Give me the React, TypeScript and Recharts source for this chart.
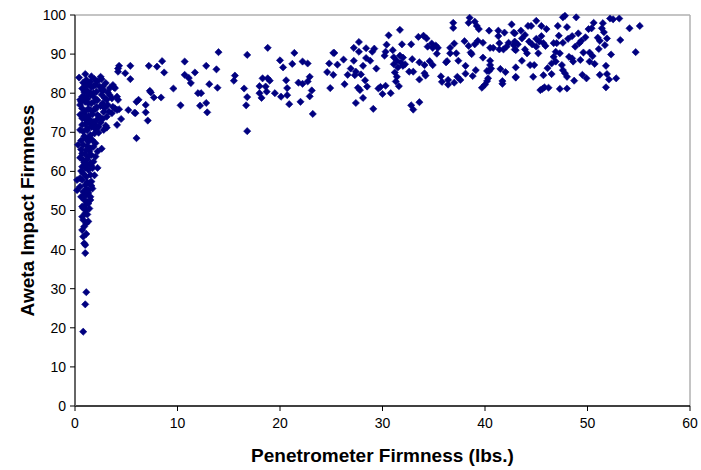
import React from 'react';
import { ScatterChart, Scatter, XAxis, YAxis, ReferenceLine } from 'recharts';

// Penetrometer firmness (lbs.) vs Aweta impact firmness
const softLow: number[][] = [
  [1.0,39.1],[0.9,41.6],[1.0,41.2],[0.8,43.3],[1.1,44.0],[0.7,45.0],[0.9,45.9],[1.1,46.7],[1.3,47.2],[0.8,47.6],
  [0.7,48.4],[1.0,49.3],[1.2,49.0],[1.1,50.1],[0.8,50.6],[1.4,50.5],[0.7,51.0],[1.0,51.4],[1.3,51.8],[0.9,52.7],
  [1.5,52.7],[1.2,52.2],[0.6,53.5],[1.1,54.0],[1.5,53.5],[0.9,53.9],[1.3,54.5],[0.8,54.8],[1.3,55.2],[0.2,55.2],
  [1.7,55.6],[1.1,55.5],[1.0,26.0],[1.1,29.1],[0.8,19.0],
];
const softMid: number[][] = [
  [0.5,56.1],[1.0,56.5],[1.4,57.0],[1.6,57.4],[0.2,57.8],[0.7,57.8],[1.2,57.2],[1.1,58.6],[0.5,58.3],[1.5,59.1],
  [0.8,59.5],[1.9,59.0],[1.3,60.4],[1.7,60.8],[0.6,60.1],[1.0,60.9],[0.7,61.2],[1.1,61.6],[1.6,61.4],[1.5,62.1],
  [1.8,62.5],[0.9,62.3],[0.8,62.9],[1.2,63.1],[1.3,63.8],[1.6,64.2],[2.0,63.8],[0.5,63.5],[0.7,64.6],[1.0,64.4],
  [1.1,65.5],[1.4,65.2],[2.2,65.1],[0.6,65.6],[2.2,60.9],[1.6,56.3],
];
const softHigh: number[][] = [
  [1.5,65.9],[1.8,66.3],[0.8,66.8],[0.3,66.8],[1.2,66.5],[1.3,67.6],[1.7,68.0],[2.0,67.2],[0.6,67.9],[1.0,68.5],
  [1.4,68.8],[0.9,69.0],[1.5,69.3],[1.9,69.7],[2.3,69.9],[0.8,70.2],[1.2,70.5],[0.5,70.6],[1.2,71.0],[1.6,71.4],
  [2.0,71.9],[0.7,71.9],[1.0,72.1],[1.4,72.3],[2.3,71.4],[1.1,73.1],[1.8,72.7],[0.7,73.6],[1.5,73.1],[2.1,73.1],
  [0.9,73.9],[2.2,74.4],[2.4,74.0],[1.3,74.2],[0.8,74.9],[1.1,74.0],[1.7,74.6],[0.5,74.5],[2.6,65.8],[2.0,70.8],
  [2.8,70.6],[2.5,72.5],[3.0,71.7],[3.1,71.2],[2.7,73.4],
];
const softTop: number[][] = [
  [1.5,75.7],[1.8,75.7],[1.0,75.4],[0.7,76.1],[1.3,76.0],[2.1,76.5],[2.5,76.7],[2.0,75.9],[1.0,77.8],[1.3,77.4],
  [1.6,77.4],[2.7,77.4],[0.5,77.0],[1.9,77.9],[0.5,78.3],[0.9,78.6],[1.2,78.5],[2.2,78.2],[2.9,78.8],[0.7,79.1],
  [1.1,79.1],[1.9,78.9],[1.5,79.5],[2.6,79.6],[1.5,80.0],[1.8,80.0],[0.9,80.3],[1.2,80.6],[2.1,80.4],[2.6,80.8],
  [2.8,80.8],[0.7,81.2],[1.6,81.5],[2.4,81.7],[1.0,81.8],[1.8,81.8],[2.0,82.1],[1.3,82.3],[0.8,82.7],[1.5,82.9],
  [2.2,83.0],[1.1,83.4],[1.9,83.6],[0.4,84.0],[1.0,84.9],[1.6,84.3],[2.5,84.2],[2.6,83.6],[0.6,77.8],[3.1,78.3],
  [2.8,75.2],[3.2,77.0],[2.9,76.2],[3.0,82.6],[3.2,80.2],[2.7,81.7],
];
const transition: number[][] = [
  [3.3,75.3],[3.6,74.9],[3.1,74.0],[3.7,76.5],[3.9,76.1],[4.1,75.7],[4.3,75.9],[3.6,78.7],[3.4,79.5],[3.8,81.5],
  [3.4,81.3],[3.7,82.1],[3.9,81.3],[4.1,79.1],[4.2,78.3],[4.5,73.4],[4.1,71.9],[4.3,87.0],[4.2,85.5],[4.9,85.1],
  [5.4,87.0],[5.4,83.6],[5.2,75.7],[5.9,74.9],[6.0,77.8],[6.2,78.3],[6.0,68.5],[6.9,77.0],[6.9,75.1],[7.1,73.0],
  [7.2,87.0],[7.3,80.6],[7.4,80.2],[7.7,78.9],[8.0,86.8],[8.4,78.9],[8.5,88.2],[8.7,85.3],[9.6,81.2],[5.8,75.0],
  [4.2,86.3],
];
const midRange: number[][] = [
  [10.3,76.9],[10.7,88.1],[10.7,84.7],[11.1,83.9],[11.3,82.6],[11.7,85.3],[12.0,80.0],[12.3,80.0],[12.2,76.8],[12.8,87.0],
  [12.8,77.5],[12.9,75.1],[13.1,82.3],[13.8,86.1],[13.9,81.4],[14.0,90.5],[15.5,83.2],[15.6,84.5],[16.5,81.2],[16.8,89.8],
  [16.8,79.0],[16.7,76.9],[16.8,70.3],[18.0,81.8],[18.0,80.0],[18.2,78.8],[18.3,83.8],[18.6,81.7],[18.7,80.4],[18.8,91.6],
  [18.8,83.8],[19.0,83.2],[19.5,80.0],[20.0,88.4],[20.1,79.1],[20.3,86.6],[20.6,83.3],[20.7,81.3],[20.7,79.5],[20.9,77.2],
  [21.2,87.5],[21.4,90.3],[21.8,82.7],[22.0,77.8],[22.2,82.4],[22.2,88.1],[22.7,83.0],[22.7,87.6],[22.9,84.2],[22.9,79.2],
  [23.1,80.7],[23.2,74.7],[24.6,85.4],[24.8,87.6],[24.9,81.3],[25.2,90.3],[25.3,90.3],[25.2,84.7],[25.6,87.3],[26.2,88.6],
  [26.3,82.3],[26.6,84.7],
];
const firmRange: number[][] = [
  [26.9,86.3],[27.2,91.6],[27.2,88.3],[27.3,84.6],[27.4,85.5],[27.4,77.5],[27.6,81.4],[27.7,93.1],[27.7,90.6],[27.8,80.8],
  [27.9,84.8],[28.1,78.8],[28.1,87.0],[28.3,83.3],[28.4,91.5],[28.5,81.7],[28.4,89.0],[28.8,88.3],[29.0,90.6],[29.2,91.4],
  [29.1,76.0],[29.4,86.3],[29.6,81.2],[29.8,81.6],[30.0,79.8],[30.2,89.6],[30.3,90.6],[30.3,81.9],[30.4,92.4],[30.6,94.8],
  [30.8,80.0],[31.0,91.0],[31.1,89.2],[31.1,87.4],[31.2,85.3],[31.3,83.0],[31.4,84.2],[31.4,88.3],[31.5,86.6],[31.6,81.8],
  [31.7,96.2],[31.7,89.6],[31.8,87.8],[31.9,92.5],[32.0,87.0],[32.0,89.1],[32.2,87.4],[32.6,85.5],[32.8,92.5],[32.8,76.9],
  [32.9,88.7],[33.0,85.5],[33.0,75.8],[33.5,94.4],[33.6,87.9],[33.6,83.5],[33.6,77.7],[34.0,94.7],[34.1,87.2],[34.1,85.1],
  [34.3,94.0],[34.4,91.9],[34.2,84.5],[34.6,88.2],[34.8,92.7],[34.9,91.6],[34.9,87.2],[35.2,92.2],[35.3,90.1],[35.4,91.6],
  [35.7,84.3],[35.8,82.9],[36.2,87.9],[36.3,88.2],[36.4,83.4],[36.4,82.2],[36.6,90.2],[36.6,91.6],[36.9,98.0],[36.9,96.7],
  [37.0,92.7],[37.0,82.7],[37.2,90.2],[37.3,84.2],[37.4,88.3],[37.6,83.4],[38.0,93.3],[38.1,87.0],[38.1,85.0],[38.4,92.1],
  [38.4,98.0],[38.5,99.3],[38.6,90.4],[38.7,90.0],[38.8,84.4],[39.0,92.5],[39.0,98.3],[39.1,85.9],[39.2,97.2],[39.3,93.4],
  [39.4,96.4],[39.7,81.4],[39.8,92.9],[39.8,89.1],[40.0,82.2],[40.2,83.1],[40.3,83.8],[40.2,85.7],[40.4,85.7],[40.4,96.0],
  [40.5,91.6],[40.5,88.3],[40.5,87.2],[40.6,86.3],[40.8,91.6],[41.3,96.0],[41.3,94.6],[41.4,92.8],[41.4,91.2],[41.5,86.2],
  [41.7,83.1],[41.7,82.4],[41.8,91.2],[41.9,95.5],[42.0,85.4],[42.1,91.9],[42.3,92.9],[42.6,97.6],[42.8,95.5],[42.8,92.3],
  [43.0,86.6],[43.0,84.2],[43.0,91.0],
];
const hardRange: number[][] = [
  [42.9,95.3],[42.9,93.2],[42.9,91.2],[43.0,84.0],[43.2,92.5],[43.5,96.0],[43.6,94.0],[43.6,88.3],[43.9,94.9],[43.9,91.2],
  [44.1,90.2],[44.2,97.2],[44.3,93.2],[44.4,87.2],[44.5,97.2],[44.6,92.5],[44.7,84.2],[44.8,87.2],[45.0,98.5],[45.0,91.9],
  [45.0,93.9],[45.2,90.2],[45.3,93.2],[45.4,80.8],[45.5,94.6],[45.6,81.1],[45.7,92.8],[45.7,84.6],[45.5,97.2],[45.8,81.5],
  [45.9,92.1],[46.0,96.4],[46.1,86.4],[46.2,81.4],[46.5,84.9],[46.5,87.6],[46.7,92.8],[46.7,89.3],[46.9,90.6],[46.9,88.1],
  [47.0,92.8],[47.1,97.2],[47.2,94.7],[47.3,81.1],[47.3,90.2],[47.5,87.2],[47.6,92.9],[47.6,99.4],[47.8,99.8],[47.6,85.9],
  [47.8,85.1],[48.0,96.9],[48.0,81.2],[48.0,84.2],[48.1,93.9],[48.2,89.3],[48.5,94.6],[48.5,88.9],[48.6,88.1],[48.7,83.2],
  [48.8,91.9],[48.9,99.4],[49.1,95.3],[49.2,92.8],[49.3,88.5],[49.4,93.4],[49.5,84.7],[49.6,90.4],[49.8,94.3],[49.9,83.8],
  [50.1,96.4],[50.2,90.4],[50.2,88.1],[50.4,96.6],[50.5,89.5],[50.6,98.0],[50.7,87.5],[51.0,94.2],[51.1,91.3],[51.2,93.4],
  [51.2,84.7],[51.4,96.6],[51.5,97.9],[51.6,95.6],[51.7,92.3],[51.8,87.0],[51.8,81.5],[51.9,94.0],[51.9,84.9],[52.1,83.5],
  [52.2,99.1],[52.3,89.9],[52.5,98.9],[52.8,83.8],[53.1,99.1],[53.2,93.6],[54.1,96.6],[54.7,90.5],[55.1,97.2],
];

const xTicks = [0, 10, 20, 30, 40, 50, 60];
const yTicks = [0, 10, 20, 30, 40, 50, 60, 70, 80, 90, 100];
const xTitle = 'Penetrometer Firmness (lbs.)';
const yTitle = 'Aweta Impact Firmness';

const data = [...softLow, ...softMid, ...softHigh, ...softTop, ...transition, ...midRange, ...firmRange, ...hardRange].map(
  ([x, y]) => ({ x, y })
);

const FONT = '"Liberation Sans", Arial, sans-serif';
const NAVY = '#000080';

const Diamond = (props: any) => {
  const { cx, cy } = props;
  if (cx == null || cy == null) return null;
  const r = 3.6;
  return (
    <polygon
      points={`${cx},${cy - r} ${cx + r},${cy} ${cx},${cy + r} ${cx - r},${cy}`}
      fill={NAVY}
      stroke={NAVY}
      strokeWidth={0.6}
    />
  );
};

const YTitle = (props: any) => {
  const vb = props.viewBox || {};
  const x = (vb.x ?? 0) + 27;
  const y = (vb.y ?? 0) + (vb.height ?? 0) / 2;
  return (
    <text
      x={x}
      y={y}
      transform={`rotate(-90, ${x}, ${y})`}
      textAnchor="middle"
      dominantBaseline="central"
      fontFamily={FONT}
      fontWeight="bold"
      fontSize={19}
      fill="#000"
    >
      {yTitle}
    </text>
  );
};

const XTitle = (props: any) => {
  const vb = props.viewBox || {};
  const x = (vb.x ?? 0) + (vb.width ?? 0) / 2;
  const y = (vb.y ?? 0) + 49;
  return (
    <text
      x={x}
      y={y}
      textAnchor="middle"
      dominantBaseline="central"
      fontFamily={FONT}
      fontWeight="bold"
      fontSize={19}
      fill="#000"
    >
      {xTitle}
    </text>
  );
};

export default function App() {
  return (
    <div style={{ position: 'absolute', left: 0, top: 0, width: 701, height: 470, background: '#fff' }}>
      <ScatterChart width={701} height={470} margin={{ top: 15, right: 11, bottom: 0, left: 0 }}>
        <XAxis
          type="number"
          dataKey="x"
          domain={[0, 60]}
          ticks={xTicks}
          interval={0}
          height={64}
          tickSize={5}
          tickMargin={7}
          stroke="#000"
          tick={{ fill: '#000', fontSize: 14, fontFamily: FONT }}
          tickLine={{ stroke: '#000' }}
          axisLine={{ stroke: '#000', strokeWidth: 1.5 }}
          label={{ content: XTitle }}
        />
        <YAxis
          type="number"
          dataKey="y"
          domain={[0, 100]}
          ticks={yTicks}
          interval={0}
          width={75}
          tickSize={5}
          tickMargin={4}
          stroke="#000"
          tick={{ fill: '#000', fontSize: 14, fontFamily: FONT }}
          tickLine={{ stroke: '#000' }}
          axisLine={{ stroke: '#666', strokeWidth: 2 }}
          label={{ content: YTitle }}
        />
        <ReferenceLine y={100} stroke="#b0b0b0" strokeWidth={1.5} />
        <ReferenceLine x={60} stroke="#b0b0b0" strokeWidth={1.5} />
        <Scatter data={data} shape={Diamond} isAnimationActive={false} />
      </ScatterChart>
    </div>
  );
}
